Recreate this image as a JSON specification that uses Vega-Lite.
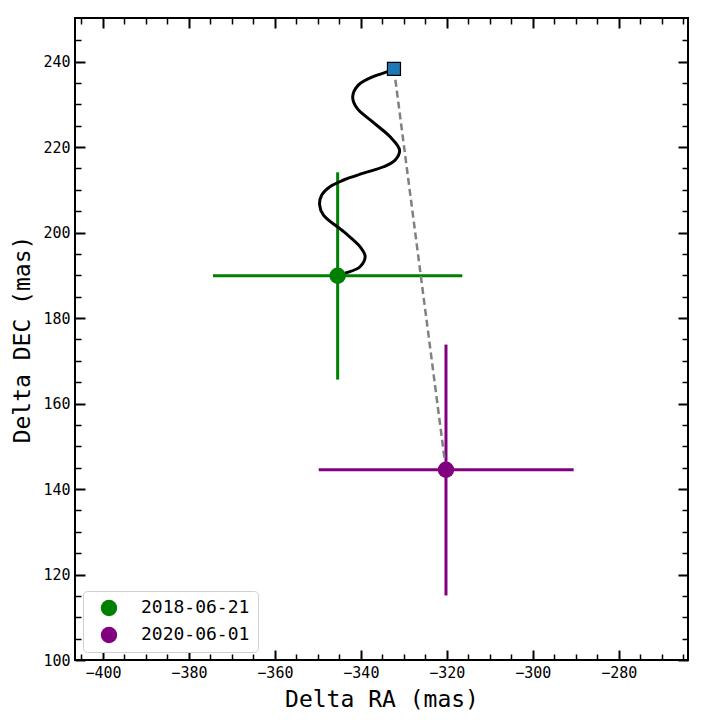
{
  "$schema": "https://vega.github.io/schema/vega-lite/v6.json",
  "width": 613,
  "height": 642,
  "autosize": {"type": "none"},
  "padding": {"left": 75, "top": 18, "right": 20, "bottom": 65},
  "background": "white",
  "config": {
    "view": {"stroke": "black", "strokeWidth": 2},
    "font": "DejaVu Sans Mono"
  },
  "datasets": {
    "track": [
      {"t": 1, "ra": -332.3, "dec": 238.3},
      {"t": 2, "ra": -333.6, "dec": 237.7},
      {"t": 3, "ra": -337.1, "dec": 236.5},
      {"t": 4, "ra": -340.6, "dec": 234.5},
      {"t": 5, "ra": -341.9, "dec": 231.8},
      {"t": 6, "ra": -340.9, "dec": 229.1},
      {"t": 7, "ra": -337.4, "dec": 226.0},
      {"t": 8, "ra": -333.2, "dec": 222.4},
      {"t": 9, "ra": -331.0, "dec": 219.3},
      {"t": 10, "ra": -332.0, "dec": 217.0},
      {"t": 11, "ra": -334.7, "dec": 215.4},
      {"t": 12, "ra": -339.4, "dec": 213.9},
      {"t": 13, "ra": -344.0, "dec": 212.3},
      {"t": 14, "ra": -347.1, "dec": 210.8},
      {"t": 15, "ra": -349.1, "dec": 208.8},
      {"t": 16, "ra": -349.6, "dec": 206.5},
      {"t": 17, "ra": -348.7, "dec": 204.1},
      {"t": 18, "ra": -344.0, "dec": 200.2},
      {"t": 19, "ra": -340.2, "dec": 196.7},
      {"t": 20, "ra": -339.0, "dec": 194.4},
      {"t": 21, "ra": -340.2, "dec": 192.0},
      {"t": 22, "ra": -343.6, "dec": 190.5},
      {"t": 23, "ra": -345.3, "dec": 190.0}
    ],
    "epochs": [
      {"date": "2018-06-21", "ra": -345.4, "dec": 189.9, "ra_lo": -374.4, "ra_hi": -316.4, "dec_lo": 165.6, "dec_hi": 214.1},
      {"date": "2020-06-01", "ra": -320.2, "dec": 144.5, "ra_lo": -349.8, "ra_hi": -290.5, "dec_lo": 115.1, "dec_hi": 173.8}
    ],
    "pred": [{"ra": -332.3, "dec": 238.3}],
    "link": [
      {"t": 0, "ra": -332.3, "dec": 238.3},
      {"t": 1, "ra": -320.2, "dec": 144.5}
    ]
  },
  "layer": [
    {
      "data": {"name": "epochs"},
      "mark": {"type": "rule", "strokeWidth": 3},
      "encoding": {
        "x": {"field": "ra_lo", "type": "quantitative", "scale": {"domain": [-406.5, -263.9], "nice": false, "zero": false}, "axis": null},
        "x2": {"field": "ra_hi"},
        "y": {"field": "dec", "type": "quantitative", "scale": {"domain": [100, 250.2], "nice": false, "zero": false}, "axis": null},
        "color": {"field": "date", "type": "nominal", "scale": {"domain": ["2018-06-21", "2020-06-01"], "range": ["#008000", "#800080"]}, "legend": null}
      }
    },
    {
      "data": {"name": "epochs"},
      "mark": {"type": "rule", "strokeWidth": 3},
      "encoding": {
        "x": {"field": "ra", "type": "quantitative", "scale": {"domain": [-406.5, -263.9], "nice": false, "zero": false}, "axis": null},
        "y": {"field": "dec_lo", "type": "quantitative", "scale": {"domain": [100, 250.2], "nice": false, "zero": false}, "axis": null},
        "y2": {"field": "dec_hi"},
        "color": {"field": "date", "type": "nominal", "scale": {"domain": ["2018-06-21", "2020-06-01"], "range": ["#008000", "#800080"]}, "legend": null}
      }
    },
    {
      "data": {"name": "track"},
      "mark": {"type": "line", "color": "black", "strokeWidth": 3, "interpolate": "catmull-rom"},
      "encoding": {
        "x": {
          "field": "ra", "type": "quantitative",
          "scale": {"domain": [-406.5, -263.9], "nice": false, "zero": false},
          "axis": {
            "orient": "bottom",
            "values": [-405, -400, -395, -390, -385, -380, -375, -370, -365, -360, -355, -350, -345, -340, -335, -330, -325, -320, -315, -310, -305, -300, -295, -290, -285, -280, -275, -270, -265],
            "title": "Delta RA (mas)",
            "domain": false, "grid": false,
            "tickColor": "black",
            "tickSize": {"condition": {"test": "datum.value % 20 === 0", "value": -10}, "value": -6},
            "tickWidth": {"condition": {"test": "datum.value % 20 === 0", "value": 2}, "value": 1.5},
            "labelExpr": "datum.value % 20 === 0 ? datum.label : ''",
            "labelFont": "DejaVu Sans Mono", "labelFontSize": 15, "labelColor": "black",
            "labelPadding": 15, "labelFlush": false, "labelOverlap": false,
            "titleFont": "DejaVu Sans Mono", "titleFontSize": 23, "titleFontWeight": "normal", "titleColor": "black", "titlePadding": 4
          }
        },
        "y": {
          "field": "dec", "type": "quantitative",
          "scale": {"domain": [100, 250.2], "nice": false, "zero": false},
          "axis": {
            "orient": "left",
            "values": [100, 105, 110, 115, 120, 125, 130, 135, 140, 145, 150, 155, 160, 165, 170, 175, 180, 185, 190, 195, 200, 205, 210, 215, 220, 225, 230, 235, 240, 245],
            "title": "Delta DEC (mas)",
            "domain": false, "grid": false,
            "tickColor": "black",
            "tickSize": {"condition": {"test": "datum.value % 20 === 0", "value": -10}, "value": -6},
            "tickWidth": {"condition": {"test": "datum.value % 20 === 0", "value": 2}, "value": 1.5},
            "labelExpr": "datum.value % 20 === 0 ? datum.label : ''",
            "labelFont": "DejaVu Sans Mono", "labelFontSize": 15, "labelColor": "black",
            "labelPadding": 15, "labelFlush": false, "labelOverlap": false,
            "titleFont": "DejaVu Sans Mono", "titleFontSize": 23, "titleFontWeight": "normal", "titleColor": "black", "titlePadding": 8
          }
        },
        "order": {"field": "t", "type": "quantitative"}
      }
    },
    {
      "data": {"name": "link"},
      "mark": {"type": "line", "color": "#808080", "strokeWidth": 2.5, "strokeDash": [7, 4]},
      "encoding": {
        "x": {"field": "ra", "type": "quantitative", "scale": {"domain": [-406.5, -263.9], "nice": false, "zero": false}, "axis": null},
        "y": {"field": "dec", "type": "quantitative", "scale": {"domain": [100, 250.2], "nice": false, "zero": false}, "axis": null},
        "order": {"field": "t", "type": "quantitative"}
      }
    },
    {
      "data": {"name": "epochs"},
      "mark": {"type": "circle", "opacity": 1, "size": 270},
      "encoding": {
        "x": {"field": "ra", "type": "quantitative", "scale": {"domain": [-406.5, -263.9], "nice": false, "zero": false}, "axis": null},
        "y": {"field": "dec", "type": "quantitative", "scale": {"domain": [100, 250.2], "nice": false, "zero": false}, "axis": null},
        "color": {
          "field": "date", "type": "nominal",
          "scale": {"domain": ["2018-06-21", "2020-06-01"], "range": ["#008000", "#800080"]},
          "legend": {
            "title": null, "orient": "none", "legendX": 8, "legendY": 573,
            "symbolType": "circle", "symbolSize": 270, "symbolStrokeWidth": 0, "symbolOpacity": 1,
            "labelFont": "DejaVu Sans Mono", "labelFontSize": 18, "labelColor": "black",
            "padding": 8, "strokeColor": "#d0d0d0", "fillColor": "white", "cornerRadius": 4,
            "rowPadding": 9, "symbolOffset": 9, "labelOffset": 23
          }
        }
      }
    },
    {
      "data": {"name": "pred"},
      "mark": {"type": "square", "filled": true, "fill": "#1f77b4", "stroke": "black", "strokeWidth": 1.2, "size": 170, "opacity": 1},
      "encoding": {
        "x": {
          "field": "ra", "type": "quantitative",
          "scale": {"domain": [-406.5, -263.9], "nice": false, "zero": false},
          "axis": {
            "orient": "top",
            "values": [-405, -400, -395, -390, -385, -380, -375, -370, -365, -360, -355, -350, -345, -340, -335, -330, -325, -320, -315, -310, -305, -300, -295, -290, -285, -280, -275, -270, -265],
            "title": null, "labels": false, "domain": false, "grid": false,
            "tickColor": "black",
            "tickSize": {"condition": {"test": "datum.value % 20 === 0", "value": -10}, "value": -6},
            "tickWidth": {"condition": {"test": "datum.value % 20 === 0", "value": 2}, "value": 1.5}
          }
        },
        "y": {
          "field": "dec", "type": "quantitative",
          "scale": {"domain": [100, 250.2], "nice": false, "zero": false},
          "axis": {
            "orient": "right",
            "values": [100, 105, 110, 115, 120, 125, 130, 135, 140, 145, 150, 155, 160, 165, 170, 175, 180, 185, 190, 195, 200, 205, 210, 215, 220, 225, 230, 235, 240, 245],
            "title": null, "labels": false, "domain": false, "grid": false,
            "tickColor": "black",
            "tickSize": {"condition": {"test": "datum.value % 20 === 0", "value": -10}, "value": -6},
            "tickWidth": {"condition": {"test": "datum.value % 20 === 0", "value": 2}, "value": 1.5}
          }
        }
      }
    }
  ],
  "resolve": {"axis": {"x": "independent", "y": "independent"}, "legend": {"color": "independent"}}
}
